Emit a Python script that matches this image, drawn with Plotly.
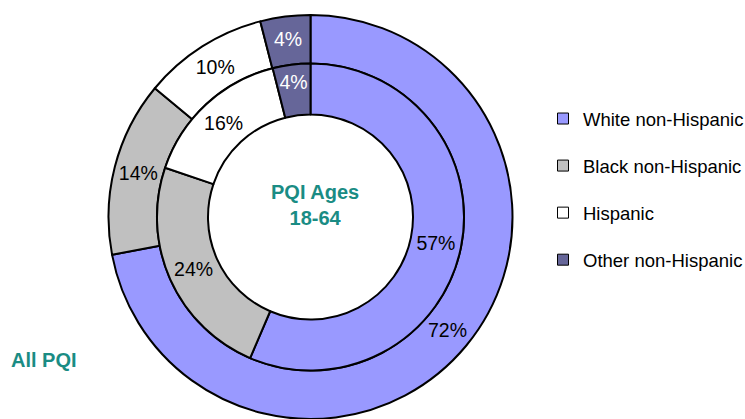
import plotly.graph_objects as go

categories = ["White non-Hispanic", "Black non-Hispanic", "Hispanic", "Other non-Hispanic"]
all_pqi = [72, 14, 10, 4]          # outer ring: All PQI
ages_18_64 = [57, 24, 16, 4]       # inner ring: PQI Ages 18-64
colors = ["#9999FF", "#C0C0C0", "#FFFFFF", "#666699"]
text_colors = ["#000000", "#000000", "#000000", "#FFFFFF"]

W, H = 745, 419
cx, cy = 310.5, 202.0   # centre in px (y from bottom)
r_out, r_mid, r_in = 202.0, 153.5, 102.5
LABEL_FONT = "Liberation Sans, Arial"

def dom(r):
    return dict(x=[(cx - r) / W, (cx + r) / W], y=[(cy - r) / H, (cy + r) / H])

fig = go.Figure()
fig.add_trace(go.Pie(
    values=all_pqi, labels=categories, sort=False, direction="clockwise", rotation=0,
    hole=r_mid / r_out, domain=dom(r_out),
    marker=dict(colors=colors, line=dict(color="#000000", width=2)),
    texttemplate="%{value}%", textposition="inside", insidetextorientation="horizontal",
    textfont=dict(color=text_colors, size=19.5, family=LABEL_FONT),
    showlegend=False, hoverinfo="label+value",
))
fig.add_trace(go.Pie(
    values=ages_18_64, labels=categories, sort=False, direction="clockwise", rotation=0,
    hole=r_in / r_mid, domain=dom(r_mid),
    marker=dict(colors=colors, line=dict(color="#000000", width=2)),
    texttemplate="%{value}%", textposition="inside", insidetextorientation="horizontal",
    textfont=dict(color=text_colors, size=19.5, family=LABEL_FONT),
    showlegend=False, hoverinfo="label+value",
))
for name, c in zip(categories, colors):
    fig.add_trace(go.Scatter(
        x=[None], y=[None], mode="markers", name=name, legendgroup=name,
        marker=dict(symbol="square", size=11, color=c, line=dict(color="#000000", width=1)),
    ))

fig.add_annotation(text="<b>PQI Ages<br>18-64</b>", x=315 / W, y=(H - 205) / H,
                   xref="paper", yref="paper", showarrow=False,
                   xanchor="center", yanchor="middle",
                   font=dict(size=20, color="#1A8C84", family="Liberation Sans, Arial"))
fig.add_annotation(text="<b>All PQI</b>", x=9 / W, y=(H - 360) / H,
                   xanchor="left", yanchor="middle",
                   xref="paper", yref="paper", showarrow=False,
                   font=dict(size=20, color="#1A8C84", family="Liberation Sans, Arial"))

fig.update_layout(
    width=W, height=H, margin=dict(l=0, r=0, t=0, b=0, autoexpand=False),
    paper_bgcolor="white", plot_bgcolor="white",
    xaxis=dict(visible=False), yaxis=dict(visible=False),
    uniformtext=dict(minsize=19.5, mode="show"),
    showlegend=True,
    legend=dict(x=543 / W, y=(H - 100) / H, xanchor="left", yanchor="top",
                font=dict(size=18.5, color="#000000", family="Liberation Sans, Arial"),
                tracegroupgap=20, itemwidth=30, bgcolor="rgba(0,0,0,0)"),
)
fig.write_html("out.html", config={"displayModeBar": False},
               post_script="document.body.style.margin='0';")
